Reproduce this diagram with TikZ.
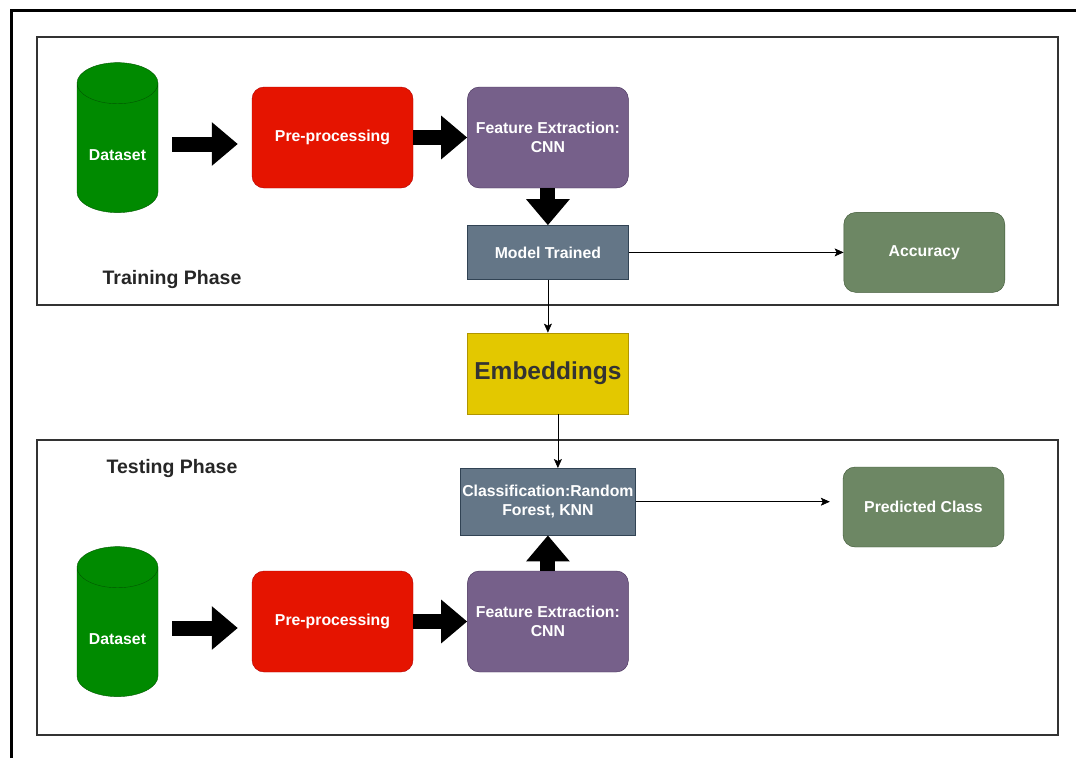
\documentclass[tikz,border=0pt]{standalone}
\usepackage{fontspec}
\setmainfont{Liberation Sans}
\usetikzlibrary{arrows.meta, positioning, shapes.geometric}

\definecolor{cylFill}{HTML}{008A00}
\definecolor{cylDraw}{HTML}{005700}
\definecolor{redFill}{HTML}{E51400}
\definecolor{redDraw}{HTML}{B20000}
\definecolor{purpleFill}{HTML}{76608A}
\definecolor{purpleDraw}{HTML}{432D57}
\definecolor{slateFill}{HTML}{647687}
\definecolor{slateDraw}{HTML}{314354}
\definecolor{oliveFill}{HTML}{6D8764}
\definecolor{oliveDraw}{HTML}{3A5431}
\definecolor{yellowFill}{HTML}{E3C800}
\definecolor{yellowDraw}{HTML}{B09500}
\definecolor{frameGray}{HTML}{333333}

\begin{document}
\begin{tikzpicture}[
  x=1pt, y=-1pt,
  node distance=54pt and 54pt,
  txt/.style={text=white, font=\bfseries\fontsize{15.8}{19}\selectfont, align=center, inner sep=0pt},
  dataset/.style={txt, draw=cylDraw, fill=cylFill, cylinder, shape border rotate=90, aspect=0.72, minimum width=81pt, minimum height=150pt, text height=25pt, text depth=0pt},
  prep/.style={txt, draw=redDraw, fill=redFill, rounded corners=12pt, minimum width=161pt, minimum height=101pt},
  feat/.style={txt, draw=purpleDraw, fill=purpleFill, rounded corners=12pt, minimum width=161pt, minimum height=101pt},
  slate/.style={txt, draw=slateDraw, fill=slateFill, minimum width=161pt},
  result/.style={txt, draw=oliveDraw, fill=oliveFill, rounded corners=12pt, minimum width=161pt, minimum height=80pt},
  embed/.style={txt, text=frameGray, font=\bfseries\fontsize{24.5}{28}\selectfont, draw=yellowDraw, fill=yellowFill, minimum width=161pt, minimum height=81pt},
  phase/.style={draw=frameGray, line width=2pt},
  phaselabel/.style={font=\bfseries\fontsize{19.5}{22}\selectfont, text=black!85},
  bigarrow/.style={line width=15pt, -{Triangle[length=26pt, width=42pt]}},
  arrow/.style={semithick, -{Stealth[length=9pt, width=8pt, inset=2pt]}}
]
\useasboundingbox (0,0) rectangle (1076,758);

% outer frame and phases
\draw[line width=3pt] (11,758) -- (11,10) -- (1076,10);
\draw[phase] (37,37) rectangle (1058,305);
\draw[phase] (37,440) rectangle (1058,735);
\node[phaselabel] (trainlbl) at (172,279) {Training Phase};
\node[phaselabel] (testlbl) at (172,468) {Testing Phase};

% training
\node[dataset] (data1) at (117.5,148) {Dataset};
\node[prep] (pre1) at (332.5,137.5) {Pre-processing};
\node[feat, right=54pt of pre1] (feat1) {Feature Extraction:\\CNN};
\node[slate, minimum height=54pt, below=37pt of feat1] (model) {Model Trained};
\node[result, right=215pt of model] (acc) {Accuracy};

% embeddings
\node[embed, below=53pt of model] (emb) {Embeddings};

% testing
\node[slate, minimum width=175pt, minimum height=67pt, below=54pt of emb] (cls) {Classification:Random\\Forest, KNN};
\node[result] (pred) at (923.5,507) {Predicted Class};
\coordinate[left=13pt of pred.west] (predin);
\node[dataset] (data2) at (117.5,632) {Dataset};
\node[prep] (pre2) at (332.5,621.5) {Pre-processing};
\node[feat, right=54pt of pre2] (feat2) {Feature Extraction:\\CNN};

\draw[bigarrow, shorten <=14pt, shorten >=14pt] (data1.east |- 0,144) -- (pre1.west |- 0,144);
\draw[bigarrow] (pre1) -- (feat1);
\draw[bigarrow] (feat1) -- (model);
\draw[arrow] (model) -- (acc);
\draw[arrow] (model) -- (emb);
\draw[arrow] ([xshift=10pt]emb.south) -- ([xshift=10pt]cls.north);
\draw[arrow] (cls.east) -- (cls.east -| predin);
\draw[bigarrow, shorten <=14pt, shorten >=14pt] (data2.east |- 0,628) -- (pre2.west |- 0,628);
\draw[bigarrow] (pre2) -- (feat2);
\draw[bigarrow] (feat2) -- (cls);
\end{tikzpicture}
\end{document}
